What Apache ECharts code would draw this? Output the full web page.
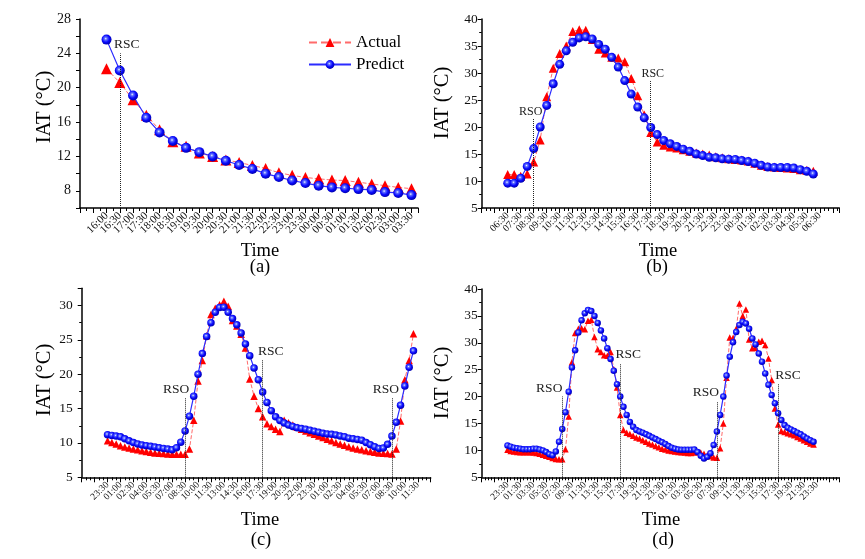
<!DOCTYPE html>
<html><head><meta charset="utf-8">
<script src="https://cdn.jsdelivr.net/npm/echarts@6/dist/echarts.min.js"></script>
<style>html,body{margin:0;padding:0;background:#fff}#c{width:865px;height:559px}</style>
</head><body><div id="c"></div>
<script>
// ---------- DATA ----------
const seriesNames = ['Actual', 'Predict'];
// (a)
const tickLabelsA = ['16:00','16:30','17:00','17:30','18:00','18:30','19:00','19:30','20:00','20:30','21:00','21:30','22:00','22:30','23:00','23:30','00:00','00:30','01:00','01:30','02:00','02:30','03:00','03:30'];
const actualA  = [22.2,20.6,18.6,16.8,15.1,13.7,13.2,12.4,12.0,11.6,11.3,10.95,10.6,10.1,9.8,9.55,9.4,9.25,9.2,9.0,8.8,8.6,8.4,8.25];
const predictA = [25.6,22.0,19.1,16.5,14.8,13.8,13.0,12.5,12.0,11.5,11.0,10.55,10.0,9.6,9.2,8.9,8.6,8.4,8.3,8.2,8.1,7.85,7.75,7.5];
const eventsA = [{name:'RSC', x:1, top:24}];
// (b)
const tickLabelsB = ['06:30','07:30','08:30','09:30','10:30','11:30','12:30','13:30','14:30','15:30','16:30','17:30','18:30','19:30','20:30','21:30','22:30','23:30','00:30','01:30','02:30','03:30','04:30','05:30','06:30'];
const actualB  = [11.2,11.2,10.9,11.3,13.5,17.6,25.6,30.9,33.6,35.0,37.7,38.0,37.9,36.2,34.4,33.7,32.9,32.8,32.1,29.0,25.8,22.2,19.0,17.2,16.6,16.3,16.1,15.8,15.5,15.2,15.0,14.8,14.5,14.3,14.1,14.0,13.9,13.7,13.3,12.9,12.7,12.6,12.5,12.4,12.3,12.1,12.0,11.8];
const predictB = [9.6,9.6,10.5,12.7,16.0,20.0,24.0,28.0,31.6,34.1,35.7,36.5,36.7,36.3,35.3,34.4,32.9,31.1,28.6,26.1,23.7,21.7,19.9,18.6,17.5,16.9,16.4,15.9,15.5,15.0,14.7,14.4,14.3,14.1,14.05,14.0,13.8,13.6,13.3,12.9,12.6,12.5,12.5,12.5,12.4,12.1,11.8,11.3];
const eventsB = [{name:'RSO', x:4, top:21.5},{name:'RSC', x:22, top:28.5}];
// (c)
const tickLabelsC = ['23:30','01:00','02:30','04:00','05:30','07:00','08:30','10:00','11:30','13:00','14:30','16:00','17:30','19:00','20:30','22:00','23:30','01:00','02:30','04:00','05:30','07:00','08:30','10:00','11:30'];
const actualC  = [10.3,10.05,9.85,9.6,9.4,9.25,9.1,9.0,8.85,8.75,8.65,8.55,8.5,8.45,8.4,8.35,8.35,8.35,8.35,
  9.1,13.3,19.0,22.0,25.6,28.7,29.6,30.1,30.6,29.9,27.8,27.0,25.8,23.8,19.3,16.8,15.0,13.8,12.8,12.4,12.0,11.65,
  13.3,12.95,12.6,12.3,12.0,11.75,11.5,11.25,11.0,10.8,10.55,10.3,10.05,9.85,9.65,9.45,9.25,9.1,9.0,8.85,8.75,8.65,8.55,8.5,8.45,8.4,9.1,13.2,19.2,22.0,25.9];
const predictC = [11.2,11.1,11.0,10.9,10.6,10.3,10.05,9.85,9.7,9.6,9.5,9.4,9.3,9.2,9.1,9.0,9.3,10.1,11.75,13.9,
  16.8,20.0,23.0,25.5,27.5,29.0,29.7,29.75,29.0,28.1,27.2,26.0,24.4,22.7,20.9,19.2,17.4,15.9,14.7,13.8,
  13.25,12.9,12.6,12.4,12.2,12.1,12.0,11.85,11.7,11.55,11.4,11.3,11.25,11.15,11.0,10.9,10.7,10.6,10.5,10.4,
  10.05,9.75,9.45,9.2,9.25,9.8,11.0,13.0,15.5,18.3,21.0,23.4];
const eventsC = [{name:'RSO', x:18, top:16.5},{name:'RSC', x:36, top:22.1},{name:'RSO', x:66, top:16.5}];
// (d)
const tickLabelsD = ['23:30','01:30','03:30','05:30','07:30','09:30','11:30','13:30','15:30','17:30','19:30','21:30','23:30','01:30','03:30','05:30','07:30','09:30','11:30','13:30','15:30','17:30','19:30','21:30','23:30'];
const actualD  = [10.1,9.9,9.8,9.7,9.65,9.65,9.65,9.65,9.6,9.5,9.4,9.2,9.0,8.8,8.6,8.4,8.35,
  8.35,10.2,16.3,26.4,31.8,32.6,32.7,32.5,34.1,34.3,31.1,28.8,28.3,27.7,27.6,28.3,25.1,21.7,16.6,13.8,
  13.3,13.05,12.7,12.4,12.2,11.9,11.6,11.3,11.1,10.8,10.6,10.3,10.15,10.0,9.9,9.8,9.7,9.65,9.6,9.5,9.5,9.6,9.7,9.6,9.4,9.1,8.9,8.7,8.65,
  10.4,15.0,23.5,31.0,30.9,32.6,37.3,35.0,36.2,30.6,29.0,29.1,30.2,30.4,29.6,27.1,23.1,17.8,14.8,13.6,13.4,13.2,13.0,12.8,12.5,12.2,11.9,11.6,11.3,11.1];
const predictD = [10.9,10.7,10.5,10.4,10.3,10.2,10.2,10.2,10.3,10.3,10.15,10.0,9.7,9.3,9.1,9.8,11.6,
  14.0,17.1,20.9,25.4,28.6,31.9,34.2,35.5,36.1,35.9,35.0,33.7,32.3,30.8,29.0,27.0,24.8,22.3,20.0,
  18.1,16.6,15.3,14.4,13.8,13.5,13.3,13.0,12.7,12.4,12.1,11.8,11.5,11.2,10.8,10.5,10.3,10.15,10.1,10.1,10.1,10.1,10.15,9.7,9.0,8.5,8.8,
  9.45,11.0,13.5,16.6,20.0,23.9,27.4,30.1,32.0,33.3,33.9,33.6,32.6,30.8,29.7,28.0,26.5,24.3,22.2,20.3,18.75,16.9,15.65,14.7,14.2,13.9,13.6,13.3,13.0,12.6,12.2,11.9,11.6];
const eventsD = [{name:'RSO', x:17, top:20},{name:'RSC', x:35, top:26.2},{name:'RSO', x:65, top:19.1},{name:'RSC', x:84, top:22.3}];

// ---------- LAYOUT / STYLE ----------
const FONT = '"Liberation Serif","Times New Roman",serif';
const panels = [
  {grid:{left:80,top:19,width:338,height:189}, xMin:-2, xMax:23.49, xInt:1, xMinor:2, labels:tickLabelsA, step:1, xFont:11,
   yMin:6, yMax:28, yInt:2, yShow:v=>v>=8&&v%4===0, yMinor:0, yFont:14, yMargin:9,
   actual:actualA, predict:predictA, tri:11, ball:10, events:eventsA, dx:[7], evFont:13.5},
  {grid:{left:481.7,top:19,width:357.6,height:189}, xMin:-4, xMax:51, xInt:2, xMinor:3, labels:tickLabelsB, step:2, xFont:10,
   yMin:5, yMax:40, yInt:5, yShow:v=>true, yMinor:2, yFont:13.5, yMargin:4,
   actual:actualB, predict:predictB, tri:9, ball:9, events:eventsB, dx:[-3,2], evFont:12},
  {grid:{left:81.7,top:288.3,width:349,height:189}, xMin:-6, xMax:75, xInt:3, xMinor:3, labels:tickLabelsC, step:3, xFont:9.5,
   yMin:5, yMax:32.5, yInt:5, yShow:v=>v<=30, yMinor:2, yFont:13.5, yMargin:9,
   actual:actualC, predict:predictC, tri:7.5, ball:7.5, events:eventsC, dx:[-9,8,-6], evFont:13.5},
  {grid:{left:481.7,top:289,width:357.3,height:188.3}, xMin:-8, xMax:102.9, xInt:4, xMinor:4, labels:tickLabelsD, step:4, xFont:9.5,
   yMin:5, yMax:40, yInt:5, yShow:v=>true, yMinor:2, yFont:13.5, yMargin:4,
   actual:actualD, predict:predictD, tri:6.5, ball:6.5, events:eventsD, dx:[-13,8,-11,10], evFont:13.5}
];

function ball(){
  return new echarts.graphic.RadialGradient(0.42,0.4,0.6,[
    {offset:0,color:'#f0f2ff'},{offset:0.22,color:'#6070ff'},{offset:0.6,color:'#0a0aff'},{offset:1,color:'#0000b0'}]);
}

const grids=[], xAxes=[], yAxes=[], series=[];
panels.forEach((p,i)=>{
  grids.push(Object.assign({containLabel:false}, p.grid));
  xAxes.push({type:'value', gridIndex:i, min:p.xMin, max:p.xMax, interval:p.xInt,
    axisLine:{show:true,onZero:false,lineStyle:{color:'#000',width:1.5}},
    axisTick:{show:true,length:5,lineStyle:{color:'#000',width:1}},
    minorTick:{show:true,splitNumber:p.xMinor,length:3,lineStyle:{color:'#000',width:1}},
    splitLine:{show:false}, minorSplitLine:{show:false},
    axisLabel:{rotate:45, fontSize:p.xFont, fontFamily:FONT, color:'#111', margin:6, hideOverlap:false,
      showMinLabel:true, showMaxLabel:true,
      formatter:(v)=>{const r=Math.round(v); if(Math.abs(v-r)>1e-6||r<0||r%p.step) return ''; const s=p.labels[r/p.step]; return s===undefined?'':s;}}
  });
  yAxes.push({type:'value', gridIndex:i, min:p.yMin, max:p.yMax, interval:p.yInt,
    axisLine:{show:true,onZero:false,lineStyle:{color:'#000',width:1.5}},
    axisTick:{show:true,length:4,lineStyle:{color:'#000',width:1}},
    minorTick:{show:p.yMinor>0,splitNumber:p.yMinor||2,length:2.5,lineStyle:{color:'#000',width:1}},
    splitLine:{show:false}, minorSplitLine:{show:false},
    axisLabel:{fontSize:p.yFont, fontFamily:FONT, color:'#111', margin:p.yMargin,
      formatter:(v)=>{const r=Math.round(v*100)/100; return (Math.abs(r-Math.round(r))<1e-6 && p.yShow(Math.round(r)))?String(Math.round(r)):'';}}
  });
  const yBottom = p.yMin;
  series.push({name:seriesNames[0], type:'line', xAxisIndex:i, yAxisIndex:i,
    data:p.actual.map((v,k)=>[k,v]), symbol:'triangle', symbolSize:p.tri,
    itemStyle:{color:'#ff0000'}, lineStyle:{color:'#ff6b6b',width:1,type:'dashed'}, z:2,
    emphasis:{disabled:true},
    markLine:{silent:true, symbol:['none','none'], animation:false,
      lineStyle:{type:'dotted',color:'#222',width:1}, label:{show:false}, emphasis:{disabled:true},
      data:p.events.map(e=>[{coord:[e.x,yBottom]},{coord:[e.x,e.top]}])},
    markPoint:{silent:true, symbol:'rect', symbolSize:1, itemStyle:{color:'rgba(0,0,0,0)'}, animation:false,
      label:{show:true, position:'top', distance:1, formatter:'{b}', fontSize:p.evFont, fontFamily:FONT, color:'#222'},
      data:p.events.map((e,k)=>({name:e.name, coord:[e.x,e.top], label:{offset:[p.dx[k]||0,0]}}))}
  });
  series.push({name:seriesNames[1], type:'line', xAxisIndex:i, yAxisIndex:i,
    data:p.predict.map((v,k)=>[k,v]), symbol:'circle', symbolSize:p.ball,
    itemStyle:{color:ball()}, lineStyle:{color:'#2b2bff',width:1.2}, z:3,
    emphasis:{disabled:true}});
});

function txt(x,y,t,size,rot){
  return {type:'text', x:x, y:y, rotation:rot||0, silent:true,
    style:{text:t, font:size+'px '+FONT, fill:'#000', align:'center', verticalAlign:'middle', textAlign:'center', textVerticalAlign:'middle'}};
}
const graphics = [
  txt(260,251.5,'Time',18.5), txt(260,267,'(a)',18.5),
  txt(658,251.5,'Time',18.5), txt(657,267.5,'(b)',18.5),
  txt(260,520,'Time',18.5),  txt(261,540,'(c)',18.5),
  txt(661,520.5,'Time',18.5), txt(663,540.5,'(d)',18.5),
  txt(45,107,'IAT (°C)',20.5,Math.PI/2), txt(443,103,'IAT (°C)',20.5,Math.PI/2),
  txt(45,380,'IAT (°C)',20.5,Math.PI/2), txt(443,383,'IAT (°C)',20.5,Math.PI/2)
];

const chart = echarts.init(document.getElementById('c'), null, {renderer:'canvas'});
chart.setOption({
  animation:false, backgroundColor:'#fff',
  textStyle:{fontFamily:FONT},
  legend:{data:seriesNames, orient:'vertical', left:303, top:29, itemWidth:42, itemHeight:11, itemGap:5,
    textStyle:{fontSize:17, fontFamily:FONT, color:'#000'}, selectedMode:false},
  grid:grids, xAxis:xAxes, yAxis:yAxes, series:series, graphic:graphics
});
</script></body></html>
